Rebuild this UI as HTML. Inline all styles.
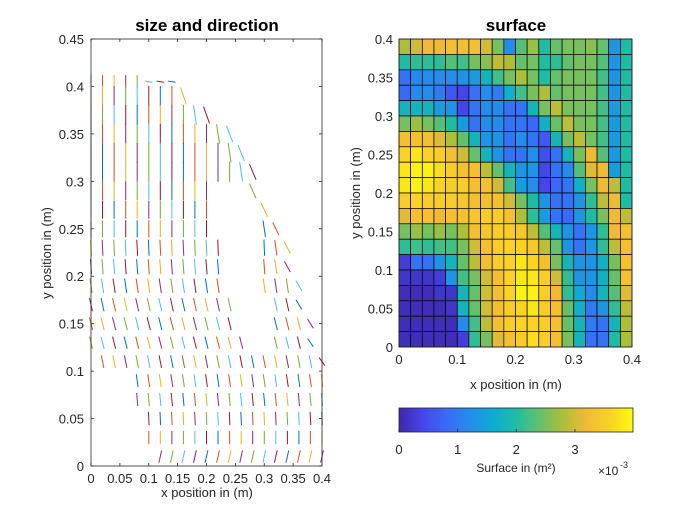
<!DOCTYPE html>
<html><head><meta charset="utf-8"><style>
html,body{margin:0;padding:0;background:#fff;}
svg{display:block;font-family:"Liberation Sans",Arial,sans-serif;}
</style></head><body>
<svg id="fig" width="700" height="525" viewBox="0 0 700 525" xmlns="http://www.w3.org/2000/svg">
<rect width="700" height="525" fill="#fff"/>
<g id="left"></g>
<g id="right"></g>
<g id="cbar"></g>
</svg>
<script>
// ---- Surface heatmap data (x 1e-3 m^2), rows top (y=0.38..0.40) to bottom ----
const surfRows = [
[2.8,3.0,3.2,3.2,3.3,3.3,3.3,3.0,2.5,1.2,2.3,2.7,2.0,2.4,2.5,2.5,2.6,2.4,1.3,2.0],
[2.0,2.1,2.1,2.1,2.3,2.2,2.5,2.6,2.9,2.8,2.4,2.5,2.0,2.1,2.4,2.5,2.5,2.3,1.3,2.0],
[0.9,1.2,1.2,1.2,1.2,1.3,1.4,1.8,2.2,2.5,2.8,2.5,2.0,2.4,2.5,2.5,2.5,2.2,1.3,2.0],
[0.8,1.2,1.2,1.0,0.6,0.4,0.9,1.2,1.0,1.7,2.2,2.5,2.8,2.4,2.5,2.5,2.5,2.2,1.3,2.0],
[1.8,1.8,1.8,1.4,1.3,0.4,0.9,1.2,1.2,0.9,0.9,1.8,2.5,2.9,2.5,2.5,2.5,2.2,1.4,2.0],
[2.5,2.7,2.5,2.3,2.0,1.4,0.9,1.2,1.2,0.9,0.9,0.8,1.7,2.4,2.9,2.5,2.5,2.2,1.4,2.0],
[3.3,3.3,3.3,3.1,2.8,2.4,1.8,1.3,1.3,0.9,1.2,0.9,0.6,1.8,2.5,2.9,2.5,2.2,1.4,2.0],
[3.6,3.8,3.6,3.5,3.3,3.0,2.4,1.8,1.3,0.9,0.9,1.2,0.5,0.9,1.8,2.5,3.2,2.3,1.4,2.0],
[3.8,3.9,3.9,3.7,3.5,3.3,3.3,2.9,2.4,1.8,1.3,1.3,0.4,0.9,1.2,2.3,3.1,3.2,1.4,2.0],
[3.8,3.9,3.8,3.6,3.5,3.5,3.3,3.3,3.0,2.2,1.4,1.2,0.4,0.8,0.9,1.7,2.5,3.2,2.9,2.0],
[3.5,3.6,3.5,3.5,3.5,3.4,3.3,3.3,3.3,3.0,2.5,2.0,1.3,0.9,0.9,1.3,2.1,2.9,3.2,2.0],
[3.1,3.3,3.3,3.2,3.3,3.3,3.4,3.5,3.5,3.3,2.8,2.1,1.4,0.9,0.8,1.3,2.0,2.5,3.2,2.9],
[2.5,2.7,2.5,2.7,2.5,2.8,3.3,3.4,3.5,3.5,3.4,2.9,2.3,1.8,1.3,0.9,1.3,2.1,3.2,3.3],
[2.1,2.2,2.1,2.2,2.2,2.5,3.0,3.3,3.5,3.6,3.6,3.4,2.9,2.4,1.3,0.9,1.3,2.1,2.9,3.3],
[0.3,0.9,0.9,1.3,1.8,2.4,2.9,3.3,3.5,3.6,3.8,3.6,3.3,2.5,1.8,1.3,1.3,1.7,2.5,3.3],
[0.2,0.2,0.2,0.3,1.3,2.2,2.5,3.0,3.3,3.6,3.8,3.8,3.5,3.0,2.1,1.3,1.3,1.7,2.4,3.3],
[0.1,0.1,0.1,0.2,0.2,1.8,2.4,3.0,3.3,3.6,3.9,3.9,3.5,3.2,2.1,1.6,1.2,1.8,2.3,3.1],
[0.1,0.1,0.1,0.1,0.2,1.8,2.4,3.0,3.3,3.5,3.6,3.8,3.5,3.3,2.4,1.7,1.0,1.3,2.1,2.9],
[0.1,0.1,0.1,0.1,0.1,1.2,2.2,2.9,3.3,3.5,3.6,3.6,3.5,3.3,2.4,1.8,1.0,0.9,1.8,2.8],
[0.1,0.1,0.1,0.1,0.1,0.3,2.1,2.5,3.1,3.3,3.5,3.7,3.5,3.3,2.5,1.8,0.9,0.9,2.0,2.8]
];
const surfXTicks = [0,0.1,0.2,0.3,0.4];
const surfXTickLabels = ["0","0.1","0.2","0.3","0.4"];
const surfYTicks = [0,0.05,0.1,0.15,0.2,0.25,0.3,0.35,0.4];
const surfYTickLabels = ["0","0.05","0.1","0.15","0.2","0.25","0.3","0.35","0.4"];
const cbarTicks = [0,1,2,3];
const cbarTickLabels = ["0","1","2","3"];
const cMax = 3.99;

// ---- Quiver data: rows of segments (y centre), x-index ranges, hole, tilt ----
const qRowY     = [0.405,0.39,0.37,0.35,0.33,0.31,0.29,0.27,0.25,0.23,0.21,0.19,0.17,0.15,0.13,0.11,0.09,0.07,0.05,0.03,0.01];
const qRowXmin  = [0,0,0,0,0,0,0,0,0,0,0,0,0,0,0,1,4,4,5,5,6];
const qRowXmax  = [7,8,10,12,13,14,14,15,16,17,17,18,18,19,19,20,20,20,20,20,20];
const qHoleMin  = [99,99,99,99,99,99,11,11,11,12,12,12,13,13,14,99,99,99,99,99,99];
const qHoleMax  = [-1,-1,-1,-1,-1,-1,13,14,14,14,14,14,15,15,15,-1,-1,-1,-1,-1,-1];
const qRowTilt  = [0,0,0,0,0,0,0,0,0,5,8,15,22,25,25,20,15,10,5,0,-22];
const qLenRow   = [0.014,0.021,0.021,0.021,0.021,0.021,0.02,0.019,0.018,0.017,0.016,0.016,0.015,0.015,0.014,0.014,0.014,0.014,0.014,0.014,0.014];
const qXTicks = [0,0.05,0.1,0.15,0.2,0.25,0.3,0.35,0.4];
const qXTickLabels = ["0","0.05","0.1","0.15","0.2","0.25","0.3","0.35","0.4"];
const qYTicks = [0,0.05,0.1,0.15,0.2,0.25,0.3,0.35,0.4,0.45];
const qYTickLabels = ["0","0.05","0.1","0.15","0.2","0.25","0.3","0.35","0.4","0.45"];

const NS="http://www.w3.org/2000/svg";
function mk(parent,tag,attrs,text){const e=document.createElementNS(NS,tag);for(const k in attrs)e.setAttribute(k,attrs[k]);if(text!==undefined)e.textContent=text;parent.appendChild(e);return e;}

const parulaStops=[[0,62,38,168],[0.1,70,70,232],[0.2,58,105,248],[0.3,38,140,236],[0.4,12,172,210],[0.5,30,188,165],[0.6,100,192,108],[0.7,172,190,58],[0.8,240,186,55],[0.9,250,210,38],[1,249,251,14]];
function parula(t){t=Math.max(0,Math.min(1,t));for(let i=1;i<parulaStops.length;i++){const a=parulaStops[i-1],b=parulaStops[i];if(t<=b[0]){const f=(t-a[0])/(b[0]-a[0]);return `rgb(${Math.round(a[1]+f*(b[1]-a[1]))},${Math.round(a[2]+f*(b[2]-a[2]))},${Math.round(a[3]+f*(b[3]-a[3]))})`;}}return "rgb(249,251,14)";}

// ---------- LEFT QUIVER ----------
const L=document.getElementById('left');
const lx0=91,lx1=322,ly0=466,ly1=39;
const lsx=v=>lx0+(v-0)/0.4*(lx1-lx0);
const lsy=v=>ly0-(v-0)/0.45*(ly0-ly1);
const qColors=["#0072BD","#D95319","#EDB120","#7E2F8E","#77AC30","#4DBEEE","#A2142F"];
let ci=0;
for(let r=0;r<qRowY.length;r++){
  for(let k=qRowXmin[r];k<=qRowXmax[r];k++){
    if(k>=qHoleMin[r]&&k<=qHoleMax[r]) continue;
    let tilt=qRowTilt[r];
    if(k===qRowXmax[r]&&r>0&&r<16) tilt=30+r*1.5;
    if(k===qRowXmax[r]-1&&r>1&&r<14) tilt=Math.max(tilt,15);
    if(r===0&&k>=5) tilt=85;
    const len=qLenRow[r];
    const cx=lsx(k*0.02), cy=lsy(qRowY[r]);
    const hx=Math.sin(tilt*Math.PI/180)*len/2/0.4*(lx1-lx0)*0.9;
    const hy=Math.cos(tilt*Math.PI/180)*len/2/0.45*(ly0-ly1);
    const seg=mk(L,'line',{x1:(cx-hx).toFixed(1),y1:(cy-hy).toFixed(1),x2:(cx+hx).toFixed(1),y2:(cy+hy).toFixed(1),stroke:qColors[ci%7],'stroke-width':1});
    
    
    ci++;
  }
}
const lbox=mk(L,'rect',{x:lx0,y:ly1,width:lx1-lx0,height:ly0-ly1,fill:'none',stroke:'#262626','stroke-width':0.8});


qXTicks.forEach((v,i)=>{const x=lsx(v);
  mk(L,'line',{x1:x,y1:ly0,x2:x,y2:ly0-3,stroke:'#262626','stroke-width':0.8});
  mk(L,'line',{x1:x,y1:ly1,x2:x,y2:ly1+3,stroke:'#262626','stroke-width':0.8});
  const t=mk(L,'text',{x:x,y:ly0+17,'font-size':13,'text-anchor':'middle',fill:'#262626'},qXTickLabels[i]);
  
  
});
qYTicks.forEach((v,i)=>{const y=lsy(v);
  mk(L,'line',{x1:lx0,y1:y,x2:lx0+3,y2:y,stroke:'#262626','stroke-width':0.8});
  mk(L,'line',{x1:lx1,y1:y,x2:lx1-3,y2:y,stroke:'#262626','stroke-width':0.8});
  const t=mk(L,'text',{x:lx0-7,y:y+5,'font-size':13,'text-anchor':'end',fill:'#262626'},qYTickLabels[i]);
  
  
});
let t;
t=mk(L,'text',{x:207,y:31,'font-size':17,'font-weight':'bold','text-anchor':'middle',fill:'#000'},'size and direction');


t=mk(L,'text',{x:207,y:497,'font-size':13,'text-anchor':'middle',fill:'#262626'},'x position in (m)');


t=mk(L,'text',{x:0,y:0,'font-size':13,'text-anchor':'middle',fill:'#262626',transform:'translate(51,253) rotate(-90)'},'y position in (m)');



// ---------- RIGHT HEATMAP ----------
const R=document.getElementById('right');
const rx0=399,rx1=632,ry0=347,ry1=39;
const rsx=v=>rx0+v/0.4*(rx1-rx0);
const rsy=v=>ry0-v/0.4*(ry0-ry1);
const nR=surfRows.length;
surfRows.forEach((row,ri)=>{
  const nC=row.length;
  row.forEach((val,cj)=>{
    const xa=rsx(cj*0.4/nC), xb=rsx((cj+1)*0.4/nC);
    const ya=rsy(0.4-ri*0.4/nR), yb=rsy(0.4-(ri+1)*0.4/nR);
    const c=mk(R,'rect',{x:xa.toFixed(2),y:ya.toFixed(2),width:(xb-xa).toFixed(2),height:(yb-ya).toFixed(2),fill:parula(val/cMax),stroke:'#000','stroke-width':0.7});
    
    
  });
});
const rbox=mk(R,'rect',{x:rx0,y:ry1,width:rx1-rx0,height:ry0-ry1,fill:'none',stroke:'#262626','stroke-width':0.8});


surfXTicks.forEach((v,i)=>{const x=rsx(v);
  const tt=mk(R,'text',{x:x,y:ry0+17,'font-size':13,'text-anchor':'middle',fill:'#262626'},surfXTickLabels[i]);
  
  
});
surfYTicks.forEach((v,i)=>{const y=rsy(v);
  const tt=mk(R,'text',{x:rx0-6,y:y+5,'font-size':13,'text-anchor':'end',fill:'#262626'},surfYTickLabels[i]);
  
  
});
t=mk(R,'text',{x:516,y:31,'font-size':17,'font-weight':'bold','text-anchor':'middle',fill:'#000'},'surface');


t=mk(R,'text',{x:516,y:389,'font-size':13,'text-anchor':'middle',fill:'#262626'},'x position in (m)');


t=mk(R,'text',{x:0,y:0,'font-size':13,'text-anchor':'middle',fill:'#262626',transform:'translate(360,193) rotate(-90)'},'y position in (m)');



// ---------- COLORBAR ----------
const C=document.getElementById('cbar');
const cx0=399,cx1=633,cy0=408,cy1=432;
const defs=mk(C,'defs',{});
const grad=mk(defs,'linearGradient',{id:'parulaGrad',x1:0,y1:0,x2:1,y2:0});
for(let i=0;i<=20;i++){mk(grad,'stop',{offset:(i/20),'stop-color':parula(i/20)});}
const cb=mk(C,'rect',{x:cx0,y:cy0,width:cx1-cx0,height:cy1-cy0,fill:'url(#parulaGrad)',stroke:'#262626','stroke-width':0.8});


const csx=v=>cx0+v/cMax*(cx1-cx0);
cbarTicks.forEach((v,i)=>{const x=csx(v);
  mk(C,'line',{x1:x,y1:cy1,x2:x,y2:cy1-3,stroke:'#262626','stroke-width':0.8});
  const tt=mk(C,'text',{x:x,y:cy1+22,'font-size':13,'text-anchor':'middle',fill:'#262626'},cbarTickLabels[i]);
  
  
});
t=mk(C,'text',{x:516,y:472,'font-size':12,'text-anchor':'middle',fill:'#262626'},'Surface in (m²)');


t=mk(C,'text',{x:598,y:475,'font-size':12,fill:'#262626'},'×10');


t=mk(C,'text',{x:620,y:468,'font-size':9,fill:'#262626'},'-3');


</script>
</body></html>
